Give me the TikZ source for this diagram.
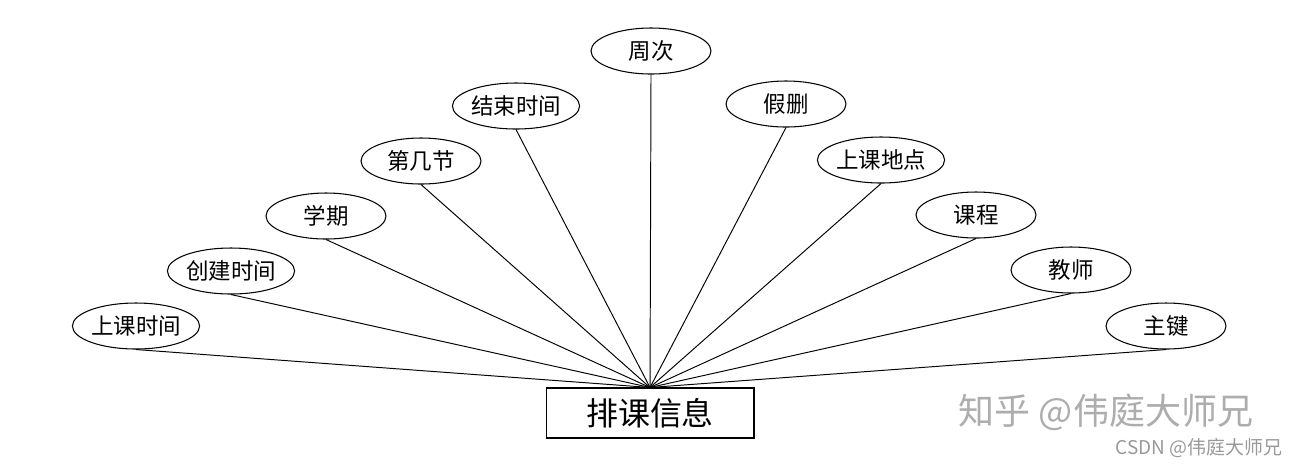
\documentclass[tikz,border=0pt]{standalone}
\usepackage{fontspec}
\setmainfont{Noto Sans CJK SC}
\usepackage{xcolor}
\usepackage{tikz}
\usetikzlibrary{positioning,shapes.geometric}

\begin{document}
\begin{tikzpicture}[x=0.02cm,y=-0.02cm,
    attr/.style={ellipse,draw,line width=0.6pt,minimum width=2.4cm,minimum height=0.92cm,inner sep=0pt,font=\fontsize{12.8}{14}\selectfont},
    entity/.style={rectangle,draw,line width=0.6pt,minimum width=4.16cm,minimum height=1cm,inner sep=0pt,font=\fontsize{18.2}{20}\selectfont},
    link/.style={line width=0.55pt},
    mark text/.style={text=black!32,inner sep=0pt}]
  \useasboundingbox (0,0) rectangle (1300,468);
  % entity
  \node[entity] (pk) at (650,413) {排课信息};
  % attributes, left side
  \node[attr] (sksj) at (136,326) {上课时间};
  \node[attr] (cjsj) at (231,271) {创建时间};
  \node[attr] (xq) at (326,216) {学期};
  \node[attr] (djj) at (421,161) {第几节};
  \node[attr] (jssj) at (516,106) {结束时间};
  \node[attr] (zc) at (651,51) {周次};
  % attributes, right side
  \node[attr] (js) at (786,104) {假删};
  \node[attr] (skdd) at (881,160) {上课地点};
  \node[attr] (kc) at (976,215) {课程};
  \node[attr] (jsh) at (1071,270) {教师};
  \node[attr] (zj) at (1166,326) {主键};
  \foreach \a in {sksj,cjsj,xq,djj,jssj,zc,js,skdd,kc,jsh,zj}
    \draw[link] (\a.south) -- (pk.north);
  % watermarks
  \node[mark text,font=\fontsize{20.5}{22}\selectfont] (wm1) at (1106,412) {知乎 @伟庭大师兄};
  \node[mark text,font=\fontsize{10.8}{12}\selectfont,text=black!40] (wm2) at (1199,448) {CSDN @伟庭大师兄};
\end{tikzpicture}
\end{document}
